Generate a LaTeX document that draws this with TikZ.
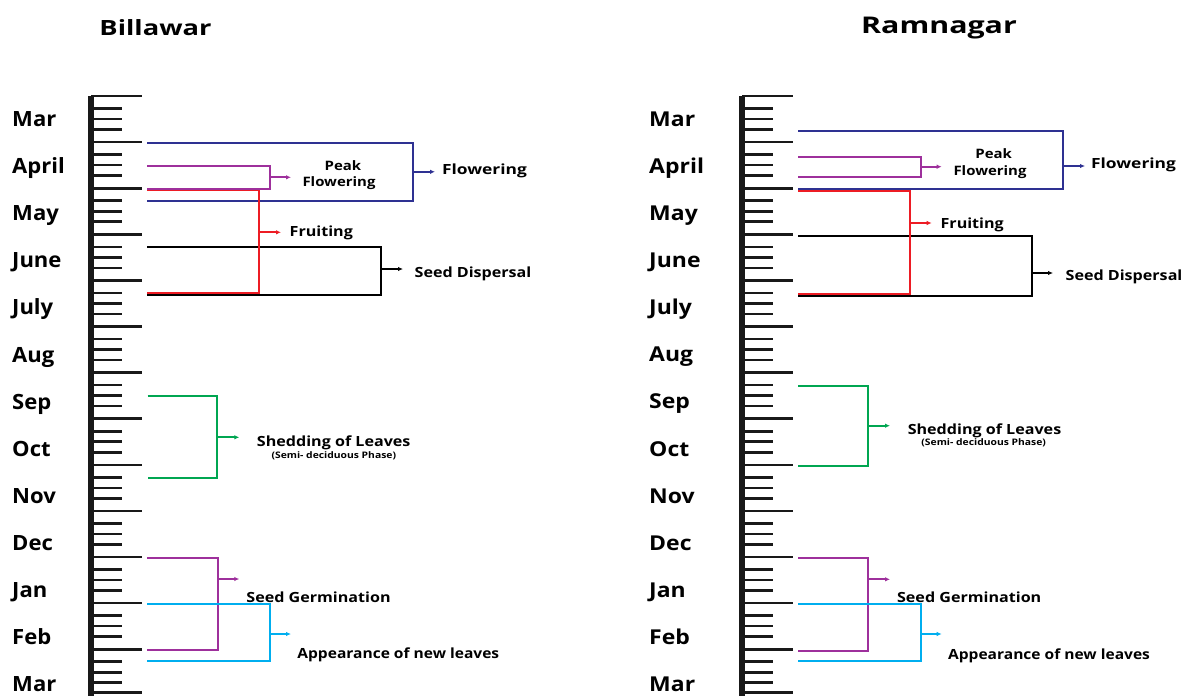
\documentclass[tikz,border=0pt]{standalone}
\usepackage{fontspec}
\setmainfont{Open Sans}
\usetikzlibrary{arrows.meta}
\definecolor{cblue}{RGB}{46,49,146}
\definecolor{cpurple}{RGB}{158,48,156}
\definecolor{cred}{RGB}{237,28,36}
\definecolor{cgreen}{RGB}{0,166,81}
\definecolor{ccyan}{RGB}{0,174,239}
\begin{document}
\begin{tikzpicture}[x=1pt,y=-1pt,
  tick/.style={line width=2.6pt,black!90},
  br/.style={line width=2pt,line join=miter},
  arr/.style={line width=2pt,-{Latex[length=5pt,width=4.5pt]}},
  monthL/.style={font=\bfseries\fontsize{21}{21}\selectfont,anchor=west,inner sep=0pt,text height=15pt,text depth=0pt,xscale=1.05},
  monthR/.style={font=\bfseries\fontsize{20.5}{20.5}\selectfont,anchor=west,inner sep=0pt,text height=14.6pt,text depth=0pt,xscale=1.12},
  lab/.style={font=\bfseries\fontsize{14}{14}\selectfont,inner sep=0pt,text height=10pt,text depth=0pt,xscale=1.15},
  labs/.style={font=\bfseries\fontsize{9}{9}\selectfont,inner sep=0pt,text height=6.5pt,text depth=0pt,xscale=1.15},
  ttl/.style={font=\bfseries\fontsize{21}{21}\selectfont,inner sep=0pt,text height=15pt,text depth=0pt,xscale=1.3}]
\useasboundingbox (0,0) rectangle (1182,696);
\fill[white] (0,0) rectangle (1182,696);
% rulers
\foreach \ox in {88,739}{
  \fill[black!90] (\ox,96) rectangle (\ox+6,696);
  \foreach \k in {0,...,12}{
    \pgfmathsetmacro\yy{96+46.1*\k}
    \draw[tick] (\ox+3,\yy) -- (\ox+54,\yy);
    \draw[tick] (\ox+3,\yy+12.5) -- (\ox+34,\yy+12.5);
    \draw[tick] (\ox+3,\yy+23) -- (\ox+34,\yy+23);
    \draw[tick] (\ox+3,\yy+33.5) -- (\ox+34,\yy+33.5);
  }
  \draw[tick] (\ox+3,692.5) -- (\ox+54,692.5);
}
% titles
\node[ttl] (t1) at (155.5,28) {Billawar};
\node[ttl,font=\bfseries\fontsize{23}{23}\selectfont,text height=16.5pt,xscale=1.015] (t2) at (939,25) {Ramnagar};
% month labels
\foreach \m [count=\i from 0] in {Mar,April,May,June,July,Aug,Sep,Oct,Nov,Dec,Jan,Feb,Mar}{
  \node[monthL] (ml\i) at (12,119+47.1*\i) {\m};
  \node[monthR] (mr\i) at (649,119+47.1*\i) {\m};
}
%%%%%%%%%%%%%%%% LEFT PANEL
% seed dispersal
\coordinate (LSa) at (147,247.3); \coordinate (LSb) at (147,294.7);
\coordinate (LSc) at (380.7,269); \coordinate (LSt) at (403,269);
\draw[br,black] (LSa) -| (LSc) |- (LSb);
\draw[arr,black] (LSc) -- (LSt);
\node[lab] (LSl) at (473,272.3) {Seed Dispersal};
% flowering
\coordinate (LFa) at (147,142.7); \coordinate (LFb) at (147,201);
\coordinate (LFc) at (413,171.8); \coordinate (LFt) at (435,171.8);
\draw[br,cblue] (LFa) -| (LFc) |- (LFb);
\draw[arr,cblue] (LFc) -- (LFt);
\node[lab,xscale=1.08] (LFl) at (484.5,169) {Flowering};
% fruiting
\coordinate (LRa) at (147,190); \coordinate (LRb) at (147,293.3);
\coordinate (LRc) at (259,232.3); \coordinate (LRt) at (281,232.3);
\draw[br,cred] (LRa) -| (LRc) |- (LRb);
\draw[arr,cred] (LRc) -- (LRt);
\node[lab] (LRl) at (321.3,231) {Fruiting};
% peak flowering
\coordinate (LPa) at (147,166); \coordinate (LPb) at (147,188.5);
\coordinate (LPc) at (270,177.3); \coordinate (LPt) at (291,177.3);
\draw[br,cpurple] (LPa) -| (LPc) |- (LPb);
\draw[arr,cpurple] (LPc) -- (LPt);
\node[lab,font=\bfseries\fontsize{13}{13}\selectfont,text height=9.3pt] (LPl1) at (343,165.7) {Peak};
\node[lab,font=\bfseries\fontsize{13}{13}\selectfont,text height=9.3pt] (LPl2) at (339,182.3) {Flowering};
% shedding
\coordinate (LHa) at (147.7,395.7); \coordinate (LHb) at (147.7,477.7);
\coordinate (LHc) at (217.3,437.3); \coordinate (LHt) at (239.3,437.3);
\draw[br,cgreen] (LHa) -| (LHc) |- (LHb);
\draw[arr,cgreen] (LHc) -- (LHt);
\node[lab] (LHl) at (333.7,441) {Shedding of Leaves};
\node[labs] (LHs) at (333.8,455) {(Semi- deciduous Phase)};
% seed germination
\coordinate (LGa) at (147,557.7); \coordinate (LGb) at (147,650);
\coordinate (LGc) at (218,579); \coordinate (LGt) at (239.3,579);
\draw[br,cpurple] (LGa) -| (LGc) |- (LGb);
\draw[arr,cpurple] (LGc) -- (LGt);
\node[lab] (LGl) at (318.5,597.3) {Seed Germination};
% appearance
\coordinate (LAa) at (147,604); \coordinate (LAb) at (147,660.7);
\coordinate (LAc) at (270,634); \coordinate (LAt) at (291,634);
\draw[br,ccyan] (LAa) -| (LAc) |- (LAb);
\draw[arr,ccyan] (LAc) -- (LAt);
\node[lab,xscale=0.966] (LAl) at (398.3,653.3) {Appearance of new leaves};
%%%%%%%%%%%%%%%% RIGHT PANEL
% seed dispersal
\coordinate (RSa) at (798,235.7); \coordinate (RSb) at (798,296);
\coordinate (RSc) at (1031.7,273); \coordinate (RSt) at (1053,273);
\draw[br,black] (RSa) -| (RSc) |- (RSb);
\draw[arr,black] (RSc) -- (RSt);
\node[lab] (RSl) at (1124,275) {Seed Dispersal};
% flowering
\coordinate (RFa) at (798,130.7); \coordinate (RFb) at (798,189.3);
\coordinate (RFc) at (1063,166); \coordinate (RFt) at (1085,166);
\draw[br,cblue] (RFa) -| (RFc) |- (RFb);
\draw[arr,cblue] (RFc) -- (RFt);
\node[lab,xscale=1.08] (RFl) at (1133.5,163.3) {Flowering};
% fruiting
\coordinate (RRa) at (798,190.7); \coordinate (RRb) at (798,294);
\coordinate (RRc) at (910,223); \coordinate (RRt) at (931.7,223);
\draw[br,cred] (RRa) -| (RRc) |- (RRb);
\draw[arr,cred] (RRc) -- (RRt);
\node[lab] (RRl) at (972.2,223.3) {Fruiting};
% peak flowering
\coordinate (RPa) at (798,156.7); \coordinate (RPb) at (798,177);
\coordinate (RPc) at (921,166.7); \coordinate (RPt) at (941.7,166.7);
\draw[br,cpurple] (RPa) -| (RPc) |- (RPb);
\draw[arr,cpurple] (RPc) -- (RPt);
\node[lab,font=\bfseries\fontsize{13}{13}\selectfont,text height=9.3pt] (RPl1) at (993.7,154.3) {Peak};
\node[lab,font=\bfseries\fontsize{13}{13}\selectfont,text height=9.3pt] (RPl2) at (990,171) {Flowering};
% shedding
\coordinate (RHa) at (798,385.7); \coordinate (RHb) at (798,465.7);
\coordinate (RHc) at (868,425.7); \coordinate (RHt) at (890,425.7);
\draw[br,cgreen] (RHa) -| (RHc) |- (RHb);
\draw[arr,cgreen] (RHc) -- (RHt);
\node[lab] (RHl) at (984.5,429) {Shedding of Leaves};
\node[labs] (RHs) at (983.7,442.3) {(Semi- deciduous Phase)};
% seed germination
\coordinate (RGa) at (798,558.3); \coordinate (RGb) at (798,650.7);
\coordinate (RGc) at (868,579.3); \coordinate (RGt) at (890,579.3);
\draw[br,cpurple] (RGa) -| (RGc) |- (RGb);
\draw[arr,cpurple] (RGc) -- (RGt);
\node[lab] (RGl) at (969.2,597.7) {Seed Germination};
% appearance
\coordinate (RAa) at (798,604.3); \coordinate (RAb) at (798,661);
\coordinate (RAc) at (920.7,634); \coordinate (RAt) at (941.7,634);
\draw[br,ccyan] (RAa) -| (RAc) |- (RAb);
\draw[arr,ccyan] (RAc) -- (RAt);
\node[lab,xscale=0.966] (RAl) at (1049,654) {Appearance of new leaves};
\end{tikzpicture}
\end{document}
